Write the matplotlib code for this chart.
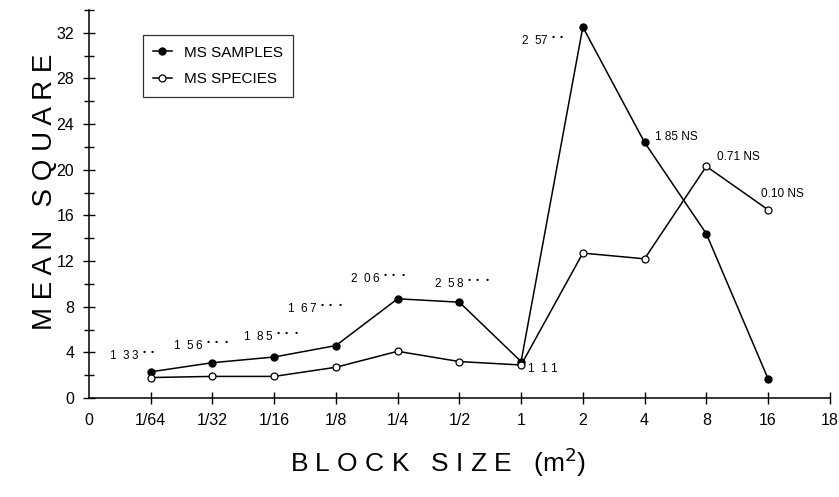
import matplotlib.pyplot as plt

plt.rcParams['font.family'] = ['Liberation Sans', 'DejaVu Sans']

# block sizes (m2), drawn at evenly spaced positions
block_labels = ['0', '1/64', '1/32', '1/16', '1/8', '1/4', '1/2', '1', '2', '4', '8', '16', '18']
ms_samples = [2.3, 3.1, 3.6, 4.6, 8.7, 8.4, 3.2, 32.5, 22.4, 14.4, 1.7]
ms_species = [1.8, 1.9, 1.9, 2.7, 4.1, 3.2, 2.9, 12.7, 12.2, 20.3, 16.5]
f_values = ['1  3 3', '1  5 6', '1  8 5', '1  6 7', '2  0 6', '2  5 8',
            '1  1 1', '2  57', '1 85 NS', '0.71 NS', '0.10 NS']
f_stars = [2, 3, 3, 3, 3, 3, 0, 2, 0, 0, 0]

pos = list(range(1, len(ms_samples) + 1))

fig = plt.figure(figsize=(8.39, 4.97), dpi=100)
ax = fig.add_axes([0.106, 0.199, 0.883, 0.781])

ax.plot(pos, ms_samples, color='black', lw=1.1, marker='o', ms=5,
        mfc='black', mec='black', label='MS SAMPLES', zorder=3)
ax.plot(pos, ms_species, color='black', lw=1.1, marker='o', ms=5,
        mfc='white', mec='black', mew=0.9, label='MS SPECIES', zorder=3)

# F ratios next to points (offsets in points)
offsets = [(-13, 11), (-8, 12), (-2, 14), (-15, 26), (-14, 14), (2, 13),
           (16, -3), (-29, -10), (23, 4), (23, 7), (10, 11)]
anchors = [ms_samples[0], ms_samples[1], ms_samples[2], ms_samples[3], ms_samples[4],
           ms_samples[5], ms_species[6], ms_samples[7], ms_samples[8],
           ms_species[9], ms_species[10]]
for i, (txt, n, off, yv) in enumerate(zip(f_values, f_stars, offsets, anchors)):
    if n:
        txt = txt + ' $^{' + '\\,'.join(['\\bullet'] * n) + '}$'
    ax.annotate(txt, (pos[i], yv), xytext=off, textcoords='offset points',
                ha='center', va='center', fontsize=8.5)

ax.set_xlim(0, 12)
ax.set_ylim(0, 34)
ax.set_xticks(range(len(block_labels)))
ax.set_xticklabels(block_labels, fontsize=11.5)
ax.set_yticks([0, 4, 8, 12, 16, 20, 24, 28, 32])
ax.set_yticks([2, 6, 10, 14, 18, 22, 26, 30, 34], minor=True)
ax.tick_params(axis='both', direction='inout', length=9, width=1, labelsize=11.5, pad=6)
ax.tick_params(axis='y', which='minor', direction='inout', length=7, width=1)
ax.xaxis.get_major_ticks()[0].tick1line.set_visible(False)

for s in ['top', 'right']:
    ax.spines[s].set_visible(False)
for s in ['left', 'bottom']:
    ax.spines[s].set_linewidth(1.1)

fig.text(45 / 839, 1 - 192 / 497, 'M E A N   S Q U A R E', fontsize=20,
         rotation=90, ha='center', va='center')
fig.text(438 / 839, 1 - 462 / 497, 'B L O C K   S I Z E   (m$^2$)', fontsize=19,
         ha='center', va='center')

leg = ax.legend(loc='upper left', bbox_to_anchor=(0.062, 0.955), fontsize=11,
                frameon=True, fancybox=False, edgecolor='black', handlelength=1.2,
                borderpad=0.7, labelspacing=0.8)
leg.get_frame().set_linewidth(0.9)

fig.savefig('out.png', dpi=100)
